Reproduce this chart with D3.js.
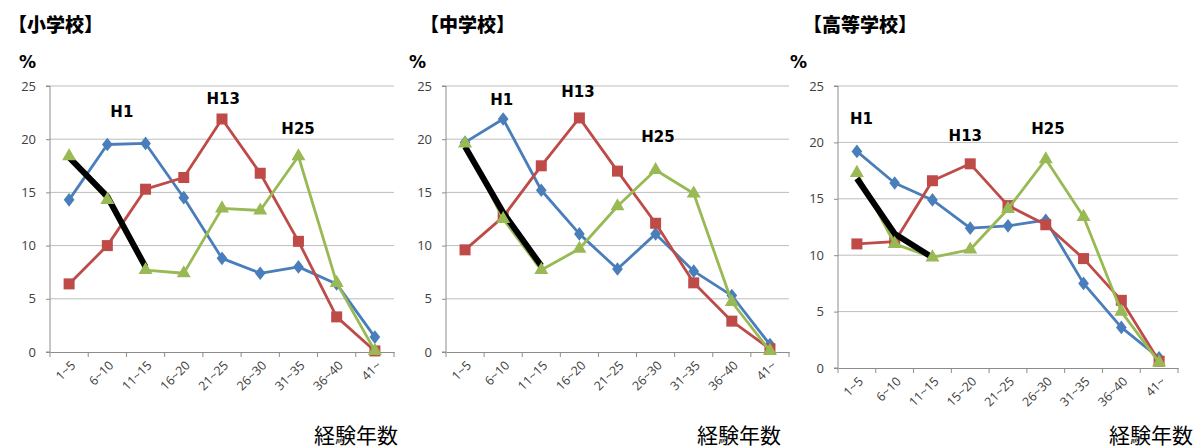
<!DOCTYPE html>
<html>
<head>
<meta charset="utf-8">
<script src="https://cdn.jsdelivr.net/npm/d3@7"></script>
<style>
  body { margin: 0; background: #fff; }
  svg { display: block; }
</style>
</head>
<body>
<div id="wrapper"></div>
<script>
// categories (years of experience)
const categories = ["1~5", "6~10", "11~15", "16~20", "21~25", "26~30", "31~35", "36~40", "41~"]
const categoriesHigh = ["1~5", "6~10", "11~15", "15~20", "21~25", "26~30", "31~35", "36~40", "41~"]
const yTicks = [0, 5, 10, 15, 20, 25]

// 小学校
const elemH1  = [14.3, 19.5, 19.6, 14.5, 8.8, 7.4, 8.0, 6.4, 1.4]
const elemH13 = [6.4, 10.0, 15.3, 16.4, 21.9, 16.8, 10.4, 3.3, 0.1]
const elemH25 = [18.4, 14.3, 7.7, 7.4, 13.5, 13.3, 18.4, 6.5, 0.1]
const elemCohort = [18.3, 14.6, 8.0]

// 中学校
const juniorH1  = [19.7, 21.9, 15.2, 11.1, 7.8, 11.1, 7.6, 5.3, 0.7]
const juniorH13 = [9.6, 12.7, 17.5, 22.0, 17.0, 12.1, 6.5, 2.9, 0.3]
const juniorH25 = [19.6, 12.5, 7.7, 9.7, 13.7, 17.1, 14.9, 4.7, 0.1]
const juniorCohort = [19.3, 13.1, 8.1]

// 高等学校
const highH1  = [19.2, 16.4, 14.9, 12.4, 12.6, 13.1, 7.5, 3.6, 0.9]
const highH13 = [11.0, 11.2, 16.6, 18.1, 14.4, 12.7, 9.7, 6.0, 0.6]
const highH25 = [17.3, 11.0, 9.8, 10.5, 14.1, 18.5, 13.4, 5.0, 0.5]
const highCohort = [16.8, 11.9, 9.8]

// series label spots: [text, category index, value]
const elemLabels = [["H1", 1.38, 22.6], ["H13", 4.03, 23.8], ["H25", 5.99, 21.0]]
const juniorLabels = [["H1", 0.96, 23.7], ["H13", 2.96, 24.5], ["H25", 5.06, 20.2]]
const highLabels = [["H1", 0.12, 22.1], ["H13", 2.87, 20.6], ["H25", 5.06, 21.2]]

const colors = { h1: "#4A7EBB", h13: "#BE4B48", h25: "#98B954" }

const panels = [
  { title: "【小学校】", cats: categories, h1: elemH1, h13: elemH13, h25: elemH25, cohort: elemCohort, labels: elemLabels,
    left: 50, right: 394, top: 86, bottom: 352, titleX: 8, pctX: 19, xTitleRight: 398 },
  { title: "【中学校】", cats: categories, h1: juniorH1, h13: juniorH13, h25: juniorH25, cohort: juniorCohort, labels: juniorLabels,
    left: 446, right: 789, top: 86, bottom: 352, titleX: 420, pctX: 409, xTitleRight: 781 },
  { title: "【高等学校】", cats: categoriesHigh, h1: highH1, h13: highH13, h25: highH25, cohort: highCohort, labels: highLabels,
    left: 838, right: 1178, top: 86, bottom: 368, titleX: 803, pctX: 790, xTitleRight: 1193 },
]

const svg = d3.select("#wrapper")
  .append("svg")
  .attr("width", 1194)
  .attr("height", 448)

const numFont = "'DejaVu Sans', Verdana, sans-serif"
const tickFont = "'Open Sans', 'DejaVu Sans', sans-serif"
const jpFont = "'Noto Sans CJK JP', sans-serif"

panels.forEach(p => {
  const g = svg.append("g")

  const xScale = d3.scaleBand()
    .domain(p.cats)
    .range([p.left, p.right])
    .padding(0)

  const yScale = d3.scaleLinear()
    .domain([0, 25])
    .range([p.bottom, p.top])

  const xMid = d => xScale(d) + xScale.bandwidth() / 2
  const xAt = i => p.left + (i + 0.5) * xScale.bandwidth()

  // title and unit
  g.append("text")
    .attr("x", p.titleX).attr("y", 32)
    .attr("font-family", jpFont).attr("font-weight", 900)
    .attr("font-size", 19)
    .text(p.title)

  g.append("text")
    .attr("x", p.pctX).attr("y", 68)
    .attr("font-family", numFont).attr("font-weight", "bold")
    .attr("font-size", 17)
    .text("%")

  g.append("text")
    .attr("x", p.xTitleRight).attr("y", 443)
    .attr("text-anchor", "end")
    .attr("font-family", jpFont)
    .attr("font-size", 21)
    .text("経験年数")

  // gridlines
  g.append("g")
    .selectAll("line")
    .data(yTicks.filter(d => d > 0))
    .join("line")
    .attr("x1", p.left).attr("x2", p.right)
    .attr("y1", d => yScale(d)).attr("y2", d => yScale(d))
    .attr("stroke", "#BDBDBD")
    .attr("stroke-width", 1)

  // y axis
  const yAxisGenerator = d3.axisLeft(yScale)
    .tickValues(yTicks)
    .tickSize(4)
    .tickPadding(10)

  const yAxis = g.append("g")
    .attr("transform", `translate(${p.left},0)`)
    .call(yAxisGenerator)
  yAxis.select(".domain").attr("stroke", "#8C8C8C").attr("d", `M-4,${p.bottom}H0V${p.top}H-4`)
  yAxis.selectAll(".tick line").attr("stroke", "#8C8C8C")
  yAxis.selectAll("text")
    .attr("font-family", tickFont).attr("font-size", 13).attr("fill", "#404040")

  // x axis
  const xAxisGenerator = d3.axisBottom(xScale).tickSize(0).tickPadding(0)
  const xAxis = g.append("g")
    .attr("transform", `translate(0,${p.bottom})`)
    .call(xAxisGenerator)
  xAxis.select(".domain").attr("stroke", "#8C8C8C")
  xAxis.selectAll("text")
    .attr("font-family", tickFont).attr("font-size", 12.5).attr("fill", "#404040")
    .attr("text-anchor", "end")
    .attr("dy", "0.35em")
    .attr("transform", "translate(4,11) rotate(-45)")

  g.append("g")
    .selectAll("line")
    .data(p.cats.map(c => xScale(c)).concat([p.right]))
    .join("line")
    .attr("x1", d => d).attr("x2", d => d)
    .attr("y1", p.bottom).attr("y2", p.bottom + 5)
    .attr("stroke", "#8C8C8C")

  const lineGenerator = d3.line()
    .x((d, i) => xMid(p.cats[i]))
    .y(d => yScale(d))

  const drawLine = (values, color) => {
    g.append("path")
      .attr("d", lineGenerator(values))
      .attr("fill", "none")
      .attr("stroke", color)
      .attr("stroke-width", 2.8)
      .attr("stroke-linejoin", "round")
  }

  // H1 - diamonds
  drawLine(p.h1, colors.h1)
  g.append("g").selectAll("path")
    .data(p.h1)
    .join("path")
    .attr("d", d3.symbol(d3.symbolDiamond, 75))
    .attr("transform", (d, i) => `translate(${xMid(p.cats[i])},${yScale(d)}) scale(1.15,0.85)`)
    .attr("fill", colors.h1)

  // H13 - squares
  drawLine(p.h13, colors.h13)
  g.append("g").selectAll("rect")
    .data(p.h13)
    .join("rect")
    .attr("x", (d, i) => xMid(p.cats[i]) - 5.5)
    .attr("y", d => yScale(d) - 5.5)
    .attr("width", 11).attr("height", 11)
    .attr("fill", colors.h13)

  // H25 line, then cohort line over it, then triangles
  drawLine(p.h25, colors.h25)

  g.append("path")
    .attr("d", lineGenerator(p.cohort))
    .attr("fill", "none")
    .attr("stroke", "#000")
    .attr("stroke-width", 6)

  g.append("g").selectAll("path")
    .data(p.h25)
    .join("path")
    .attr("d", d3.symbol(d3.symbolTriangle, 85))
    .attr("transform", (d, i) => `translate(${xMid(p.cats[i])},${yScale(d)})`)
    .attr("fill", colors.h25)

  // series labels
  g.append("g").selectAll("text")
    .data(p.labels)
    .join("text")
    .attr("x", d => xAt(d[1]))
    .attr("y", d => yScale(d[2]))
    .attr("dy", "0.36em")
    .attr("text-anchor", "middle")
    .attr("font-family", numFont).attr("font-weight", "bold")
    .attr("font-size", 15)
    .text(d => d[0])
})
</script>
</body>
</html>
